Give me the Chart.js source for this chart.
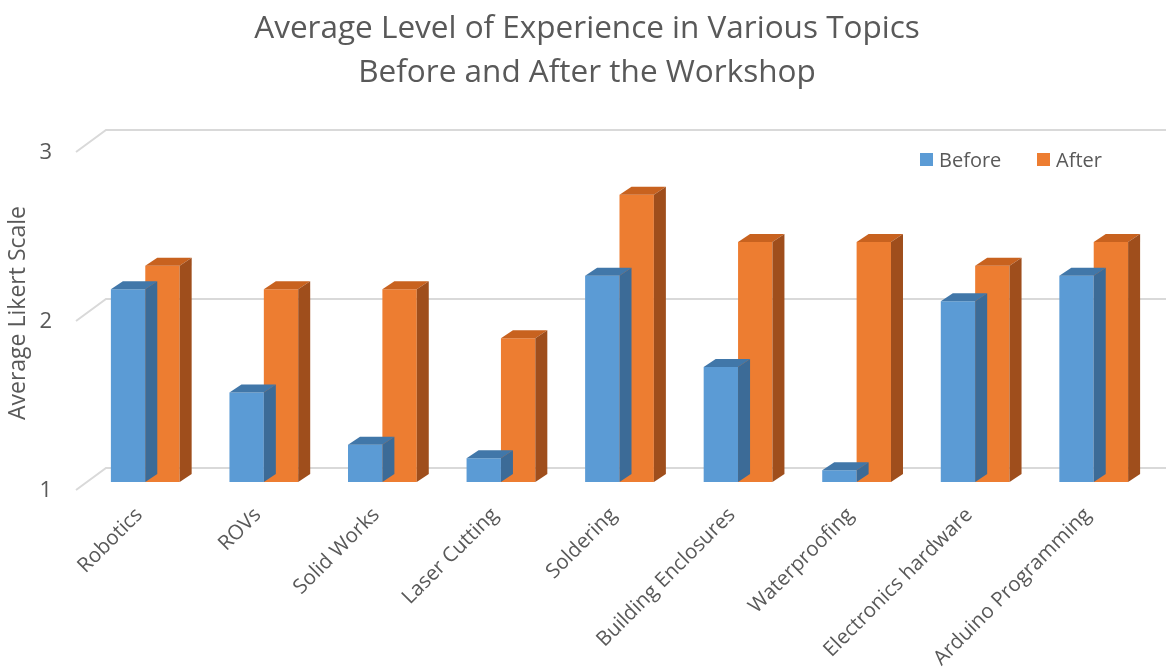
<!DOCTYPE html>
<html>
<head>
<meta charset="utf-8">
<script src="https://cdn.jsdelivr.net/npm/chart.js@4"></script>
<style>
    html, body { margin: 0; padding: 0; background: #fff; }
    #wrap { width: 1166px; height: 669px; }
</style>
</head>
<body>
<div id="wrap"><canvas id="experienceChart" width="1166" height="669"></canvas></div>
<script>
// данные
const topics = ['Robotics', 'ROVs', 'Solid Works', 'Laser Cutting', 'Soldering',
    'Building Enclosures', 'Waterproofing', 'Electronics hardware', 'Arduino Programming'];
const beforeValues = [2.14, 1.53, 1.22, 1.14, 2.22, 1.68, 1.07, 2.07, 2.22];
const afterValues = [2.28, 2.14, 2.14, 1.85, 2.70, 2.42, 2.42, 2.28, 2.42];
const yTicks = [1, 2, 3];

const FONT = "'Open Sans', sans-serif";
const TEXT = '#595959';

// 3D-грани столбцов (верх и бок)
const depth = { dx: 12, dy: -8 };
const faceColors = [
    { top: '#4177a9', side: '#3c6b97' },
    { top: '#c8621f', side: '#9f4e1c' }
];

const barFaces = {
    id: 'barFaces',
    afterDatasetDraw(chart, args) {
        const ctx = chart.ctx;
        const cols = faceColors[args.index];
        args.meta.data.forEach(bar => {
            const p = bar.getProps(['x', 'y', 'base', 'width'], true);
            const x0 = p.x - p.width / 2, x1 = p.x + p.width / 2;
            ctx.save();
            ctx.fillStyle = cols.top;
            ctx.beginPath();
            ctx.moveTo(x0, p.y);
            ctx.lineTo(x1, p.y);
            ctx.lineTo(x1 + depth.dx, p.y + depth.dy);
            ctx.lineTo(x0 + depth.dx, p.y + depth.dy);
            ctx.closePath();
            ctx.fill();
            ctx.fillStyle = cols.side;
            ctx.beginPath();
            ctx.moveTo(x1, p.y);
            ctx.lineTo(x1 + depth.dx, p.y + depth.dy);
            ctx.lineTo(x1 + depth.dx, p.base + depth.dy);
            ctx.lineTo(x1, p.base);
            ctx.closePath();
            ctx.fill();
            ctx.restore();
        });
    }
};

// сетка на задней стенке
const backGrid = {
    id: 'backGrid',
    beforeDatasetsDraw(chart) {
        const ctx = chart.ctx;
        const y = chart.scales.y;
        const area = chart.chartArea;
        ctx.save();
        ctx.strokeStyle = '#d9d9d9';
        ctx.lineWidth = 2;
        yTicks.forEach(v => {
            const py = y.getPixelForValue(v);
            ctx.beginPath();
            ctx.moveTo(area.left - 10, py + 8);
            ctx.lineTo(area.left + 20, py - 14);
            ctx.lineTo(chart.width, py - 14);
            ctx.stroke();
        });
        ctx.restore();
    }
};

// легенда внутри области графика, справа сверху
const insideLegend = {
    id: 'insideLegend',
    afterDraw(chart) {
        const ctx = chart.ctx;
        const y = 160;
        let x = 920;
        ctx.save();
        ctx.font = '20px ' + FONT;
        ctx.textBaseline = 'middle';
        chart.data.datasets.forEach(ds => {
            ctx.fillStyle = ds.backgroundColor;
            ctx.fillRect(x, y - 7, 13, 13);
            ctx.fillStyle = TEXT;
            ctx.fillText(ds.label, x + 19, y + 1);
            x += 117;
        });
        ctx.restore();
    }
};

const ctx = document.getElementById('experienceChart').getContext('2d');
const experienceChart = new Chart(ctx, {
    type: 'bar',
    data: {
        labels: topics,
        datasets: [
            {
                label: 'Before',
                data: beforeValues,
                backgroundColor: '#5b9bd5',
                borderWidth: 0,
                base: 1
            },
            {
                label: 'After',
                data: afterValues,
                backgroundColor: '#ed7d31',
                borderWidth: 0,
                base: 1
            }
        ]
    },
    options: {
        responsive: false,
        animation: false,
        layout: { padding: { left: 21, right: 13, top: 0, bottom: 0 } },
        datasets: {
            bar: { categoryPercentage: 0.58, barPercentage: 1.0 }
        },
        plugins: {
            title: {
                display: true,
                text: ['Average Level of Experience in Various Topics', 'Before and After the Workshop'],
                color: TEXT,
                font: { family: FONT, size: 31.5, weight: 'normal', lineHeight: 1.4 },
                padding: { top: 7, bottom: 48.8 }
            },
            legend: { display: false },
            tooltip: { enabled: false }
        },
        scales: {
            x: {
                grid: { display: false },
                border: { display: false },
                ticks: {
                    color: TEXT,
                    font: { family: FONT, size: 20.5 },
                    minRotation: 45,
                    maxRotation: 45,
                    padding: 13,
                    labelOffset: -6
                },
                afterFit(scale) { scale.height = 187; }
            },
            y: {
                min: 1,
                max: 3,
                grid: { display: false },
                border: { display: false },
                afterBuildTicks(scale) { scale.ticks = yTicks.map(v => ({ value: v })); },
                ticks: {
                    color: TEXT,
                    font: { family: FONT, size: 22 },
                    padding: 26,
                    labelOffset: 9
                },
                title: {
                    display: true,
                    text: 'Average Likert Scale',
                    color: TEXT,
                    font: { family: FONT, size: 23 },
                    padding: { top: -16, bottom: 0 }
                },
                afterFit(scale) { scale.width = 65; }
            }
        }
    },
    plugins: [backGrid, barFaces, insideLegend]
});
</script>
</body>
</html>
